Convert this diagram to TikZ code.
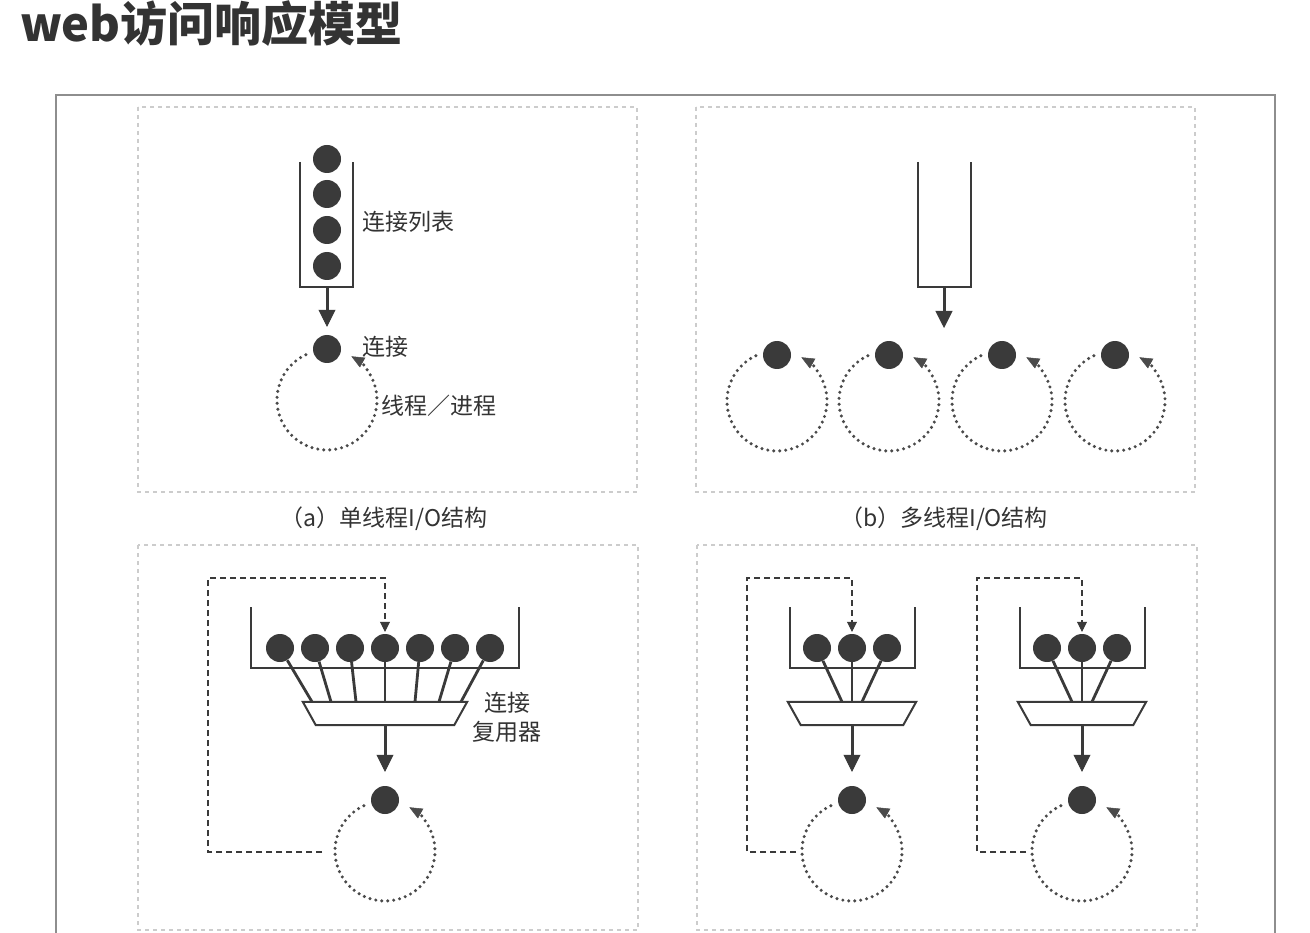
\documentclass[tikz,border=0pt]{standalone}
\usepackage{fontspec}
\setmainfont{Noto Sans CJK SC}
\usetikzlibrary{arrows.meta,calc}

\definecolor{ink}{HTML}{3A3A3A}
\definecolor{loopc}{HTML}{4A4A4A}
\definecolor{txt}{HTML}{333333}
\definecolor{framec}{HTML}{8E8E8E}
\definecolor{panelc}{HTML}{CCCCCC}

% outline of a multiplexer: a trapezium, wide side up, around node #1
\newcommand{\muxoutline}[1]{%
  \draw[muxline] (#1.north west) -- (#1.north east)
    -- ([xshift=-13pt]#1.south east) -- ([xshift=13pt]#1.south west) -- cycle;}

% one small multiplexer unit (3 connections), centred at x = #2
\newcommand{\smallmuxunit}[2]{%
  \begin{scope}[name prefix=#1-, shift={(#2,0)}]
    \draw[tray] (-62,607) -- (-62,668) -- (63,668) -- (63,607);
    \foreach \i/\x in {1/-35,2/0,3/35} \node[ball] (q\i) at (\x,648) {};
    \node[muxbox, minimum width=128pt] (mx) at (0,713.5) {};
    \muxoutline{mx}
    \foreach \i/\d in {1/-10,2/0,3/10} \draw[spoke] (q\i) -- ([xshift=\d pt]mx.north);
    \node[ball] (conn) at (0,800) {};
    \draw[feedarrow, shorten >=14pt] (mx.south) -- (conn);
    \coordinate (lc) at (0,851);
    \draw[looppath] ($(lc)+(-115:50)$) arc[start angle=-115, end angle=-421, radius=50];
    \coordinate (ret) at (-56,852);
    \draw[retline] (ret) -| (-105,578) -| (q2);
  \end{scope}}

\begin{document}
\begin{tikzpicture}[x=1pt,y=-1pt,
  ball/.style={circle, fill=ink, inner sep=0pt, minimum size=28pt},
  tray/.style={draw=ink, line width=2pt},
  spoke/.style={draw=ink, line width=2.8pt},
  muxbox/.style={rectangle, draw=none, inner sep=0pt, minimum height=23pt},
  muxline/.style={draw=ink, line width=2pt, line join=miter, fill=white},
  feedarrow/.style={draw=ink, line width=3pt,
    -{Triangle[length=17pt, width=17pt, line width=0.5pt]}},
  looppath/.style={draw=loopc, line width=3.4pt, line cap=round,
    dash pattern=on 0pt off 6pt,
    -{Triangle[length=13pt, width=11pt, line width=0.5pt]}},
  retline/.style={draw=ink, line width=2pt, dash pattern=on 6pt off 4pt,
    shorten >=2pt, -{Triangle[length=10pt, width=10pt, line width=0.5pt]}},
  panelbox/.style={draw=panelc, line width=1.5pt, dash pattern=on 4pt off 4pt},
  label/.style={text=txt, font=\fontsize{23}{29}\selectfont, inner sep=0pt},
  caption/.style={text=txt, font=\fontsize{23}{23}\selectfont, inner sep=0pt}
]
\useasboundingbox (0,0) rectangle (1310,933);
\fill[white] (0,0) rectangle (1310,933);

% heading
\node[anchor=base west, inner sep=0pt, text=txt,
      font=\fontsize{47}{47}\selectfont\bfseries] (title) at (20,42) {web访问响应模型};

% outer frame and the four panels
\draw[framec, line width=2pt] (56,945) -- (56,95) -- (1275,95) -- (1275,945);
\draw[panelbox] (138,107) rectangle (637,492);
\draw[panelbox] (696,107) rectangle (1195,492);
\draw[panelbox] (138,545) rectangle (638,930);
\draw[panelbox] (697,545) rectangle (1197,930);

% ---------- (a) single thread ----------
\draw[tray] (300,162) -- (300,287) -- (353,287) -- (353,162);
\foreach \i/\y in {1/159,2/194,3/230,4/266} \node[ball] (a\i) at (327,\y) {};
\coordinate (aout) at (327,287);
\node[ball] (aconn) at (327,349) {};
\draw[feedarrow, shorten >=8pt] (aout) -- (aconn);
\coordinate (aloop) at (327,400);
\draw[looppath] ($(aloop)+(-115:50)$) arc[start angle=-115, end angle=-421, radius=50];
\node[label, anchor=west] (alist) at (362,222) {连接列表};
\node[label, anchor=west] (aconnl) at (362,347) {连接};
\node[label, anchor=west] (athr) at (381,406) {线程／进程};
\node[caption] (capa) at (384,519) {（a）单线程I/O结构};

% ---------- (b) multi thread ----------
\draw[tray] (918,162) -- (918,287) -- (971,287) -- (971,162);
\coordinate (bout) at (944,287);
\coordinate (bend) at (944,328);
\draw[feedarrow] (bout) -- (bend);
\foreach \i/\x in {1/777,2/889,3/1002,4/1115} {
  \node[ball] (b\i) at (\x,355) {};
  \coordinate (bl\i) at (\x,401);
  \draw[looppath] ($(bl\i)+(-115:50)$) arc[start angle=-115, end angle=-421, radius=50];
}
\node[caption] (capb) at (944,519) {（b）多线程I/O结构};

% ---------- (c) multiplexed connections ----------
\draw[tray] (251,607) -- (251,668) -- (519,668) -- (519,607);
\foreach \i/\x in {1/280,2/315,3/350,4/385,5/420,6/455,7/490} \node[ball] (c\i) at (\x,648) {};
\node[muxbox, minimum width=164pt] (cmux) at (385,713.5) {};
\muxoutline{cmux}
\foreach \i/\d in {1/-73,2/-54,3/-29,4/0,5/30,6/54,7/76} \draw[spoke] (c\i) -- ([xshift=\d pt]cmux.north);
\node[ball] (cconn) at (385,800) {};
\draw[feedarrow, shorten >=14pt] (cmux.south) -- (cconn);
\coordinate (cloop) at (385,851);
\draw[looppath] ($(cloop)+(-115:50)$) arc[start angle=-115, end angle=-421, radius=50];
\coordinate (cret) at (322,852);
\draw[retline] (cret) -| (208,578) -| (c4);
\node[label, align=center] (cmuxl) at (507,717) {连接\\复用器};

% ---------- (d) several multiplexers ----------
\smallmuxunit{d1}{852}
\smallmuxunit{d2}{1082}

\end{tikzpicture}
\end{document}
